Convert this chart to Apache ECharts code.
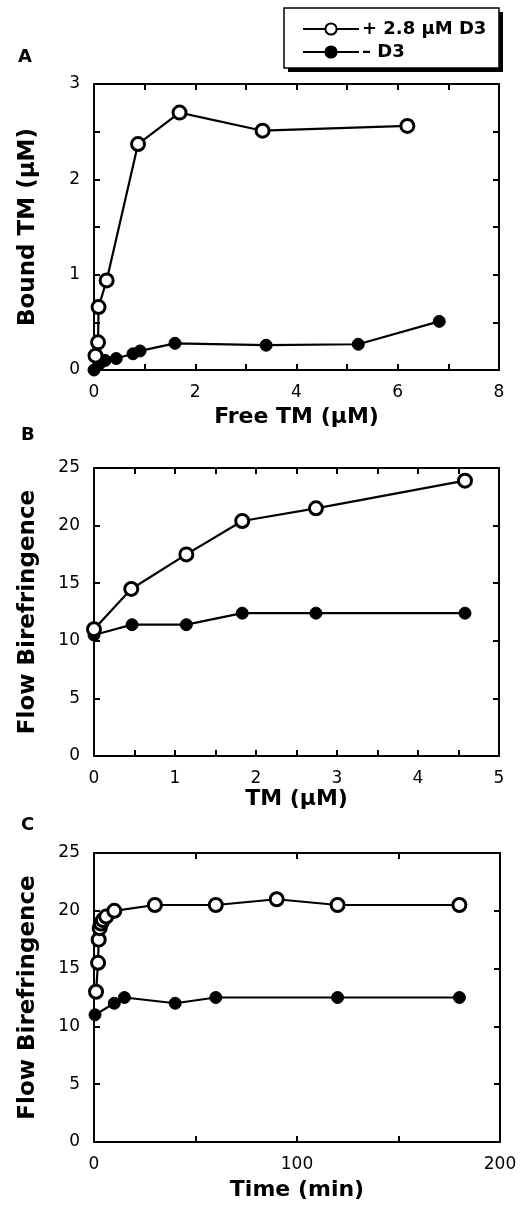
<!DOCTYPE html>
<html>
<head>
<meta charset="utf-8">
<script src="https://cdn.jsdelivr.net/npm/echarts@6/dist/echarts.min.js"></script>
<style>
  html, body { margin: 0; padding: 0; background: #fff; }
  #chart { width: 526px; height: 1205px; }
</style>
</head>
<body>
<div id="chart"></div>
<script>
// Panel A: bound vs free TM
const freeTmOpen = [0.03, 0.08, 0.09, 0.25, 0.87, 1.69, 3.33, 6.19];
const boundTmOpen = [0.15, 0.29, 0.66, 0.94, 2.37, 2.70, 2.51, 2.56];
const freeTmFilled = [0, 0.1, 0.22, 0.44, 0.77, 0.91, 1.6, 3.4, 5.22, 6.82];
const boundTmFilled = [0, 0.06, 0.1, 0.12, 0.17, 0.2, 0.28, 0.26, 0.27, 0.51];

// Panel B: flow birefringence vs TM
const tmOpen = [0, 0.46, 1.14, 1.83, 2.74, 4.58];
const fbOpen = [11.0, 14.5, 17.5, 20.4, 21.5, 23.9];
const tmFilled = [0, 0.47, 1.14, 1.83, 2.74, 4.58];
const fbFilled = [10.5, 11.4, 11.4, 12.4, 12.4, 12.4];

// Panel C: flow birefringence vs time
const timeOpen = [1, 2, 2.3, 2.8, 3.4, 4.4, 6, 10, 30, 60, 90, 120, 180];
const fbTimeOpen = [13, 15.5, 17.5, 18.5, 18.9, 19.2, 19.5, 20, 20.5, 20.5, 21, 20.5, 20.5];
const timeFilled = [0.5, 10, 15, 40, 60, 120, 180];
const fbTimeFilled = [11, 12, 12.5, 12, 12.5, 12.5, 12.5];

const seriesNames = ["+ 2.8 \u03bcM D3", "\u2013 D3"];

const pair = (xs, ys) => xs.map((x, i) => [x, ys[i]]);

const chart = echarts.init(document.getElementById("chart"));

const tickFont = { fontFamily: "DejaVu Sans", fontSize: 17, color: "#000" };
const nameFont = { fontFamily: "DejaVu Sans", fontWeight: "bold", fontSize: 22, color: "#000" };
const lineBox = { show: true, onZero: false, lineStyle: { color: "#000", width: 2 } };
const tickIn = { show: true, inside: true, length: 6, lineStyle: { color: "#000", width: 2 } };

const grids = [
  { left: 94, top: 84, width: 405, height: 286 },
  { left: 94, top: 468, width: 405, height: 288 },
  { left: 94, top: 853, width: 406, height: 289 },
];

// axis config per panel: tick interval and which ticks get a label
const xCfg = [
  { min: 0, max: 8, interval: 1, step: 2, name: "Free TM (\u03bcM)", gap: 36 },
  { min: 0, max: 5, interval: 0.5, step: 1, name: "TM (\u03bcM)", gap: 31 },
  { min: 0, max: 200, interval: 50, step: 100, name: "Time (min)", gap: 37 },
];
const yCfg = [
  { min: 0, max: 3, interval: 0.5, step: 1, name: "Bound TM (\u03bcM)" },
  { min: 0, max: 25, interval: 5, step: 5, name: "Flow Birefringence" },
  { min: 0, max: 25, interval: 5, step: 5, name: "Flow Birefringence" },
];

const stepLabel = (step) => (v) => {
  const r = v / step;
  return Math.abs(r - Math.round(r)) < 1e-6 ? String(v) : "";
};

const xAxes = [];
const yAxes = [];
for (let i = 0; i < 3; i++) {
  const xc = xCfg[i];
  const yc = yCfg[i];
  xAxes.push({
    type: "value", gridIndex: i, position: "bottom",
    min: xc.min, max: xc.max, interval: xc.interval,
    axisLine: lineBox, axisTick: tickIn, splitLine: { show: false },
    axisLabel: { ...tickFont, margin: 14, formatter: stepLabel(xc.step), showMaxLabel: true },
    name: xc.name, nameLocation: "middle", nameGap: xc.gap, nameTextStyle: nameFont,
  });
  xAxes.push({
    type: "value", gridIndex: i, position: "top",
    min: xc.min, max: xc.max, interval: xc.interval,
    axisLine: lineBox, axisTick: tickIn, splitLine: { show: false },
    axisLabel: { show: false },
  });
  yAxes.push({
    type: "value", gridIndex: i, position: "left",
    min: yc.min, max: yc.max, interval: yc.interval,
    axisLine: lineBox, axisTick: tickIn, splitLine: { show: false },
    axisLabel: { ...tickFont, margin: 14, formatter: stepLabel(yc.step) },
    name: yc.name, nameLocation: "middle", nameGap: 54, nameTextStyle: { ...nameFont, fontSize: 23 },
  });
  yAxes.push({
    type: "value", gridIndex: i, position: "right",
    min: yc.min, max: yc.max, interval: yc.interval,
    axisLine: lineBox, axisTick: tickIn, splitLine: { show: false },
    axisLabel: { show: false },
  });
}

const openSeries = (idx, data) => ({
  name: seriesNames[0], type: "line", xAxisIndex: idx * 2, yAxisIndex: idx * 2,
  data: data, symbol: "circle", symbolSize: 13, z: 3,
  lineStyle: { color: "#000", width: 2.2 },
  itemStyle: { color: "#fff", borderColor: "#000", borderWidth: 3 },
  emphasis: { disabled: true },
});
const filledSeries = (idx, data) => ({
  name: seriesNames[1], type: "line", xAxisIndex: idx * 2, yAxisIndex: idx * 2,
  data: data, symbol: "circle", symbolSize: 12, z: 2,
  lineStyle: { color: "#000", width: 2.2 },
  itemStyle: { color: "#000", borderColor: "#000", borderWidth: 1 },
  emphasis: { disabled: true },
});

const option = {
  backgroundColor: "#fff",
  animation: false,
  grid: grids,
  xAxis: xAxes,
  yAxis: yAxes,
  legend: {
    data: seriesNames,
    orient: "vertical",
    left: 284, top: 11,
    padding: [9, 14, 7, 18],
    itemWidth: 56, itemHeight: 14, itemGap: 5,
    textStyle: { fontFamily: "DejaVu Sans", fontWeight: "bold", fontSize: 18, color: "#000", padding: [0, 0, 0, -2] },
    selectedMode: false,
  },
  graphic: [
    // legend frame with a hard drop shadow
    { type: "rect", shape: { x: 288, y: 12, width: 215, height: 60 }, style: { fill: "#000" } },
    { type: "rect", shape: { x: 284, y: 8, width: 215, height: 60 }, style: { fill: "#fff", stroke: "#000", lineWidth: 1.5 } },
    { type: "text", left: 18, top: 48, style: { text: "A", font: "bold 18px 'DejaVu Sans'", fill: "#000" } },
    { type: "text", left: 21, top: 426, style: { text: "B", font: "bold 18px 'DejaVu Sans'", fill: "#000" } },
    { type: "text", left: 21, top: 816, style: { text: "C", font: "bold 18px 'DejaVu Sans'", fill: "#000" } },
  ],
  series: [
    filledSeries(0, pair(freeTmFilled, boundTmFilled)),
    openSeries(0, pair(freeTmOpen, boundTmOpen)),
    filledSeries(1, pair(tmFilled, fbFilled)),
    openSeries(1, pair(tmOpen, fbOpen)),
    filledSeries(2, pair(timeFilled, fbTimeFilled)),
    openSeries(2, pair(timeOpen, fbTimeOpen)),
  ],
};

chart.setOption(option);
</script>
</body>
</html>
